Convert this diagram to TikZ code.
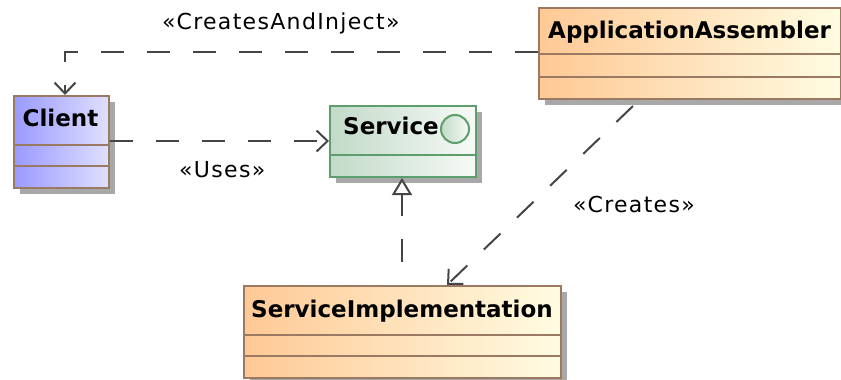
\documentclass[tikz,border=0pt]{standalone}
\usepackage{fontspec}
\setmainfont{DejaVu Sans}
\newfontfamily\lblfont[LetterSpace=6]{DejaVu Sans}
\usetikzlibrary{arrows.meta,calc,shadows}
\definecolor{brownline}{HTML}{9A7A62}
\definecolor{greenline}{HTML}{5E9E6C}
\definecolor{orangeL}{HTML}{FFC995}
\definecolor{orangeR}{HTML}{FFFCE2}
\definecolor{blueL}{HTML}{9A9AFF}
\definecolor{blueR}{HTML}{E0E0FF}
\definecolor{greenL}{HTML}{C2DAC8}
\definecolor{greenR}{HTML}{F6FAF6}
\definecolor{shadowc}{HTML}{A8A8A8}
\definecolor{linec}{HTML}{454545}
\tikzset{
  classbox/.style={draw=brownline, line width=2pt, inner sep=0pt, anchor=north west,
    drop shadow={shadow xshift=6pt, shadow yshift=-6pt, fill=shadowc, opacity=1}},
  orangebox/.style={classbox, left color=orangeL, right color=orangeR},
  bluebox/.style={classbox, left color=blueL, right color=blueR},
  greenbox/.style={classbox, draw=greenline, left color=greenL, right color=greenR},
  divider/.style={draw=brownline, line width=2pt},
  gdivider/.style={draw=greenline, line width=2pt},
  ctitle/.style={font=\fontsize{23}{26}\selectfont\bfseries, inner sep=0pt, anchor=base west},
  lbl/.style={font=\fontsize{22}{26}\selectfont\lblfont, inner sep=0pt, anchor=base west},
  dep/.style={draw=linec, line width=2pt, dash pattern=on 23pt off 23pt,
    -{Straight Barb[length=11pt, width=21pt, line width=2pt]}},
  real/.style={draw=linec, line width=2pt, dash pattern=on 23pt off 23pt, dash phase=23pt,
    -{Triangle[open, fill=white, length=17pt, width=20pt, line width=2pt]}}
}
\begin{document}
\begin{tikzpicture}[x=1pt, y=-1pt]
\useasboundingbox (0,0) rectangle (841,380);

% Client
\node[bluebox, minimum width=95pt, minimum height=92pt] (client) at (13,95) {};
\draw[divider] (client.west |- 0,145) -- (client.east |- 0,145);
\draw[divider] (client.west |- 0,166) -- (client.east |- 0,166);
\node[ctitle, anchor=base] (clientt) at (60.5,126) {Client};

% Service
\node[greenbox, minimum width=146pt, minimum height=71pt] (service) at (329,105) {};
\draw[gdivider] (service.west |- 0,155) -- (service.east |- 0,155);
\node[ctitle] (servicet) at (343,134) {Service};
\node[circle, draw=greenline, line width=2pt, minimum size=28pt, inner sep=0pt,
  left color=greenL, right color=greenR] (serviceicon) at (455,129) {};

% ApplicationAssembler
\node[orangebox, minimum width=302pt, minimum height=91pt] (asm) at (538,7) {};
\draw[divider] (asm.west |- 0,54) -- (asm.east |- 0,54);
\draw[divider] (asm.west |- 0,77) -- (asm.east |- 0,77);
\node[ctitle] (asmt) at (548,38) {ApplicationAssembler};

% ServiceImplementation
\node[orangebox, minimum width=317pt, minimum height=92pt] (impl) at (243,285) {};
\draw[divider] (impl.west |- 0,335) -- (impl.east |- 0,335);
\draw[divider] (impl.west |- 0,356) -- (impl.east |- 0,356);
\node[ctitle] (implt) at (251,317) {ServiceImplementation};

% Connectors
\coordinate (injc) at (65,95);
\draw[dep] (asm.west |- 0,52) -| (injc);
\node[lbl] (injl) at (162,29) {«CreatesAndInject»};

\draw[dep] (client.east |- 0,141) -- (service.west |- 0,141);
\node[lbl] (usesl) at (179,177) {«Uses»};

\coordinate (crs) at (633,106);
\coordinate (cre) at (447,285);
\draw[dep] (crs) -- (cre);
\node[lbl] (crl) at (573,212) {«Creates»};

\draw[real] (impl.north -| 402,0) -- (service.south -| 402,0);
\end{tikzpicture}
\end{document}
